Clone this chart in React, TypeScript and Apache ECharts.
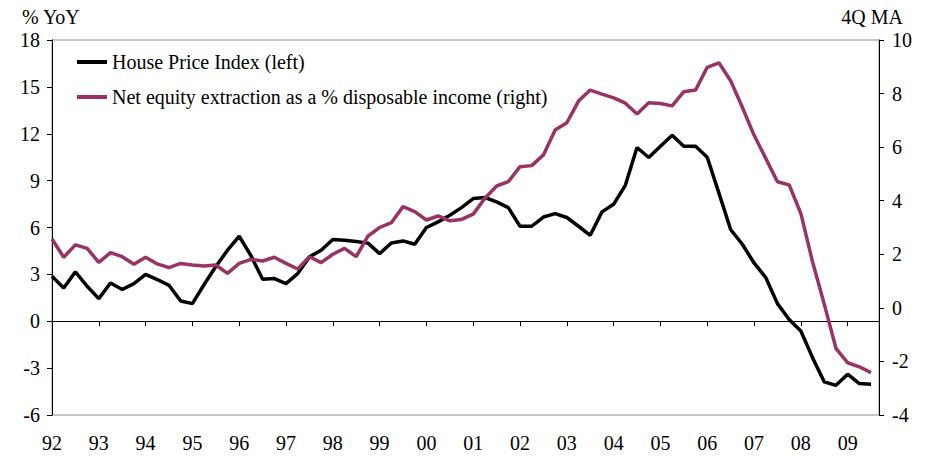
import React, { useEffect, useRef } from "react";
import * as echarts from "echarts";

const YEARS = ["92","93","94","95","96","97","98","99","00","01","02","03","04","05","06","07","08","09"];

// House Price Index, % YoY (left axis), quarterly from 92Q1 to 09Q3
const hpi = [
  2.88, 2.13, 3.16, 2.24,
  1.45, 2.45, 2.03, 2.41,
  3.0, 2.67, 2.3, 1.3,
  1.13, 2.35, 3.5, 4.55,
  5.44, 4.2, 2.69, 2.73,
  2.41, 3.05, 4.12, 4.54,
  5.23, 5.18, 5.1, 5.0,
  4.33, 5.01, 5.14, 4.93,
  6.0, 6.36, 6.78, 7.27,
  7.85, 7.92, 7.64, 7.27,
  6.08, 6.08, 6.67, 6.89,
  6.64, 6.08, 5.5, 7.0,
  7.49, 8.7, 11.12, 10.48,
  11.2, 11.9, 11.2, 11.2,
  10.5, 8.2, 5.87, 4.93,
  3.73, 2.8, 1.13, 0.11,
  -0.62, -2.33, -3.88, -4.1,
  -3.39, -3.99, -4.03,
];

// Net equity extraction as % of disposable income, 4Q MA (right axis)
const mew = [
  2.57, 1.89, 2.35, 2.22,
  1.7, 2.06, 1.91, 1.63,
  1.89, 1.64, 1.5, 1.66,
  1.6, 1.56, 1.6, 1.29,
  1.66, 1.81, 1.75, 1.89,
  1.66, 1.45, 1.91, 1.69,
  2.0, 2.22, 1.91, 2.68,
  3.0, 3.18, 3.78, 3.59,
  3.28, 3.43, 3.25, 3.3,
  3.5, 4.09, 4.55, 4.71,
  5.27, 5.31, 5.71, 6.64,
  6.91, 7.72, 8.13, 7.98,
  7.84, 7.64, 7.24, 7.66,
  7.63, 7.54, 8.07, 8.13,
  8.98, 9.15, 8.48, 7.49,
  6.45, 5.58, 4.71, 4.59,
  3.53, 1.72, 0.14, -1.51,
  -2.05, -2.2, -2.42,
];

const LEFT_TICKS = { min: -6, max: 18, interval: 3 };
const RIGHT_TICKS = { min: -4, max: 10, interval: 2 };

const yearNum = (yy: string) => (Number(yy) >= 50 ? 1900 : 2000) + Number(yy);
const quarters: number[] = [];
YEARS.forEach((y) => {
  for (let q = 0; q < 4; q++) quarters.push(yearNum(y) + q / 4);
});

const FONT = "Liberation Serif";
const FS = 20;

export default function App() {
  const ref = useRef<HTMLDivElement>(null);
  useEffect(() => {
    document.body.style.margin = "0";
    const chart = echarts.init(ref.current!, null, { renderer: "svg" });
    const xMin = yearNum(YEARS[0]);
    const xMax = xMin + 17.67;
    const fmtYear = (v: number) =>
      Number.isInteger(v) ? String(v % 100).padStart(2, "0") : "";
    chart.setOption({
      animation: false,
      backgroundColor: "#fff",
      textStyle: { fontFamily: FONT, color: "#000" },
      grid: {
        left: 52,
        right: 47,
        top: 40,
        bottom: 42,
        show: true,
        borderColor: "#8c8c8c",
        borderWidth: 1,
        backgroundColor: "transparent",
      },
      legend: {
        orient: "vertical",
        left: 77,
        top: 52,
        padding: 0,
        itemWidth: 30,
        itemHeight: 4,
        itemGap: 15,
        icon: "rect",
        textStyle: { fontFamily: FONT, fontSize: FS, color: "#000", lineHeight: 20 },
        data: ["House Price Index (left)", "Net equity extraction as a % disposable income (right)"],
      },
      graphic: [
        {
          type: "text",
          left: 22,
          top: 7,
          style: { text: "% YoY", fontFamily: FONT, fontSize: FS, fill: "#000" },
        },
        {
          type: "text",
          right: 23,
          top: 7,
          style: { text: "4Q MA", fontFamily: FONT, fontSize: FS, fill: "#000" },
        },
      ],
      xAxis: [
        {
          type: "value",
          min: xMin,
          max: xMax,
          interval: 1,
          position: "bottom",
          axisLine: { show: false, onZero: false },
          axisTick: { show: false },
          splitLine: { show: false },
          axisLabel: {
            formatter: fmtYear,
            fontFamily: FONT,
            fontSize: FS,
            color: "#000",
            margin: 18,
            showMaxLabel: false,
          },
        },
        {
          type: "value",
          min: xMin,
          max: xMax,
          interval: 1,
          position: "top",
          axisLine: { show: true, onZero: true, onZeroAxisIndex: 0, lineStyle: { color: "#000", width: 1 } },
          axisTick: { show: true, inside: true, length: 5, lineStyle: { color: "#000" } },
          axisLabel: { show: false },
          splitLine: { show: false },
        },
      ],
      yAxis: [
        {
          type: "value",
          ...LEFT_TICKS,
          position: "left",
          axisLine: { show: true, onZero: false, lineStyle: { color: "#000", width: 1 } },
          axisTick: { show: true, length: 5, lineStyle: { color: "#000" } },
          splitLine: { show: false },
          axisLabel: { fontFamily: FONT, fontSize: FS, color: "#000", margin: 12 },
        },
        {
          type: "value",
          ...RIGHT_TICKS,
          position: "right",
          axisLine: { show: true, onZero: false, lineStyle: { color: "#000", width: 1 } },
          axisTick: { show: true, length: 5, lineStyle: { color: "#000" } },
          splitLine: { show: false },
          axisLabel: { fontFamily: FONT, fontSize: FS, color: "#000", margin: 13 },
        },
      ],
      series: [
        {
          name: "House Price Index (left)",
          type: "line",
          xAxisIndex: 0,
          yAxisIndex: 0,
          showSymbol: false,
          color: "#000000",
          lineStyle: { width: 3.5, color: "#000000" },
          data: hpi.map((v, i) => [quarters[i], v]),
        },
        {
          name: "Net equity extraction as a % disposable income (right)",
          type: "line",
          xAxisIndex: 0,
          yAxisIndex: 1,
          showSymbol: false,
          color: "#993366",
          lineStyle: { width: 3.5, color: "#993366" },
          data: mew.map((v, i) => [quarters[i], v]),
        },
      ],
    });
    return () => chart.dispose();
  }, []);
  return <div ref={ref} style={{ width: 926, height: 457 }} />;
}
